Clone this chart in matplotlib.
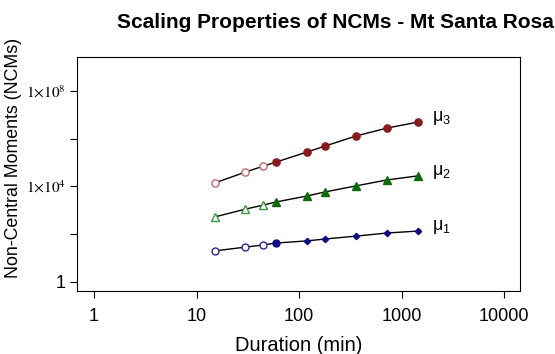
import numpy as np
import matplotlib
matplotlib.use('Agg')
from matplotlib import pyplot as plt

plt.rcParams['font.family'] = ['Liberation Sans', 'DejaVu Sans']
plt.rcParams['mathtext.fontset'] = 'stix'

# durations (min) and non-central moments of order 1..3
duration = [15, 30, 45, 60, 120, 180, 360, 720, 1440]
mu1 = [20, 28.8, 35.5, 42.7, 52.5, 63, 83, 112, 135]
mu2 = [525, 1120, 1660, 2240, 3980, 5890, 10500, 18600, 27500]
mu3 = [13800, 39800, 70800, 105000, 275000, 490000, 1.29e6, 2.75e6, 4.9e6]
n_open = 3  # first durations drawn with hollow markers

fig = plt.figure(figsize=(5.55, 3.54), dpi=100)
ax = fig.add_axes([0.1387, 0.178, 0.7983, 0.661])

series = [
    (mu3, 'o', 5.2, '#8b1a1a', '#c46a6a', r'$\mathregular{μ_3}$'),
    (mu2, '^', 5.5, '#0b6b0b', '#3c963c', r'$\mathregular{μ_2}$'),
    (mu1, 'o', 5.0, '#0a0a8a', '#2a2a9a', r'$\mathregular{μ_1}$'),
]

for vals, mk, ms, col, light, lab in series:
    ax.plot(duration, vals, color='black', lw=1.0, zorder=2)
    ax.plot(duration[:n_open], vals[:n_open], ls='none', marker=mk, ms=ms,
            mfc='white', mec=light, mew=1.0, zorder=3)
    if vals is mu1:
        ax.plot(duration[3:4], vals[3:4], ls='none', marker='o', ms=ms,
                color=col, zorder=3)
        ax.plot(duration[4:], vals[4:], ls='none', marker='D', ms=3.2,
                color=col, zorder=3)
    else:
        ax.plot(duration[n_open:], vals[n_open:], ls='none', marker=mk, ms=ms,
                color=col, zorder=3)
    ax.annotate(lab, (duration[-1], vals[-1]), xytext=(10, 3),
                textcoords='offset points', fontsize=13, va='center')

ax.set_xscale('log')
ax.set_yscale('log')
ax.set_xlim(0.682, 14320)
ax.set_ylim(0.42, 2.6e9)

ax.set_xticks([1, 10, 100, 1000, 10000])
ax.set_xticklabels(['1', '10', '100', '1000', '10000'], fontsize=13)
ax.xaxis.set_minor_locator(matplotlib.ticker.NullLocator())

ax.set_yticks([1, 1e2, 1e4, 1e6, 1e8])
ylabs = ax.set_yticklabels(['1', '', r'$1{\times}10^{4}$', '', r'$1{\times}10^{8}$'])
ylabs[0].set_fontsize(13)
for t in ylabs[1:]:
    t.set_fontsize(11)
ax.yaxis.set_minor_locator(matplotlib.ticker.NullLocator())
ax.tick_params(length=5, width=0.8)
ax.tick_params(axis='x', pad=7)
ax.tick_params(axis='y', pad=3)

ax.set_xlabel('Duration (min)', fontsize=14.5, labelpad=8)
ax.set_ylabel('Non-Central Moments (NCMs)', fontsize=12.8)
ax.yaxis.set_label_coords(-0.124, 0.568)

fig.text(0.605, 0.921, 'Scaling Properties of NCMs - Mt Santa Rosa',
         fontsize=15, fontweight='bold', ha='center', va='baseline')

fig.savefig('out.png', dpi=100)
